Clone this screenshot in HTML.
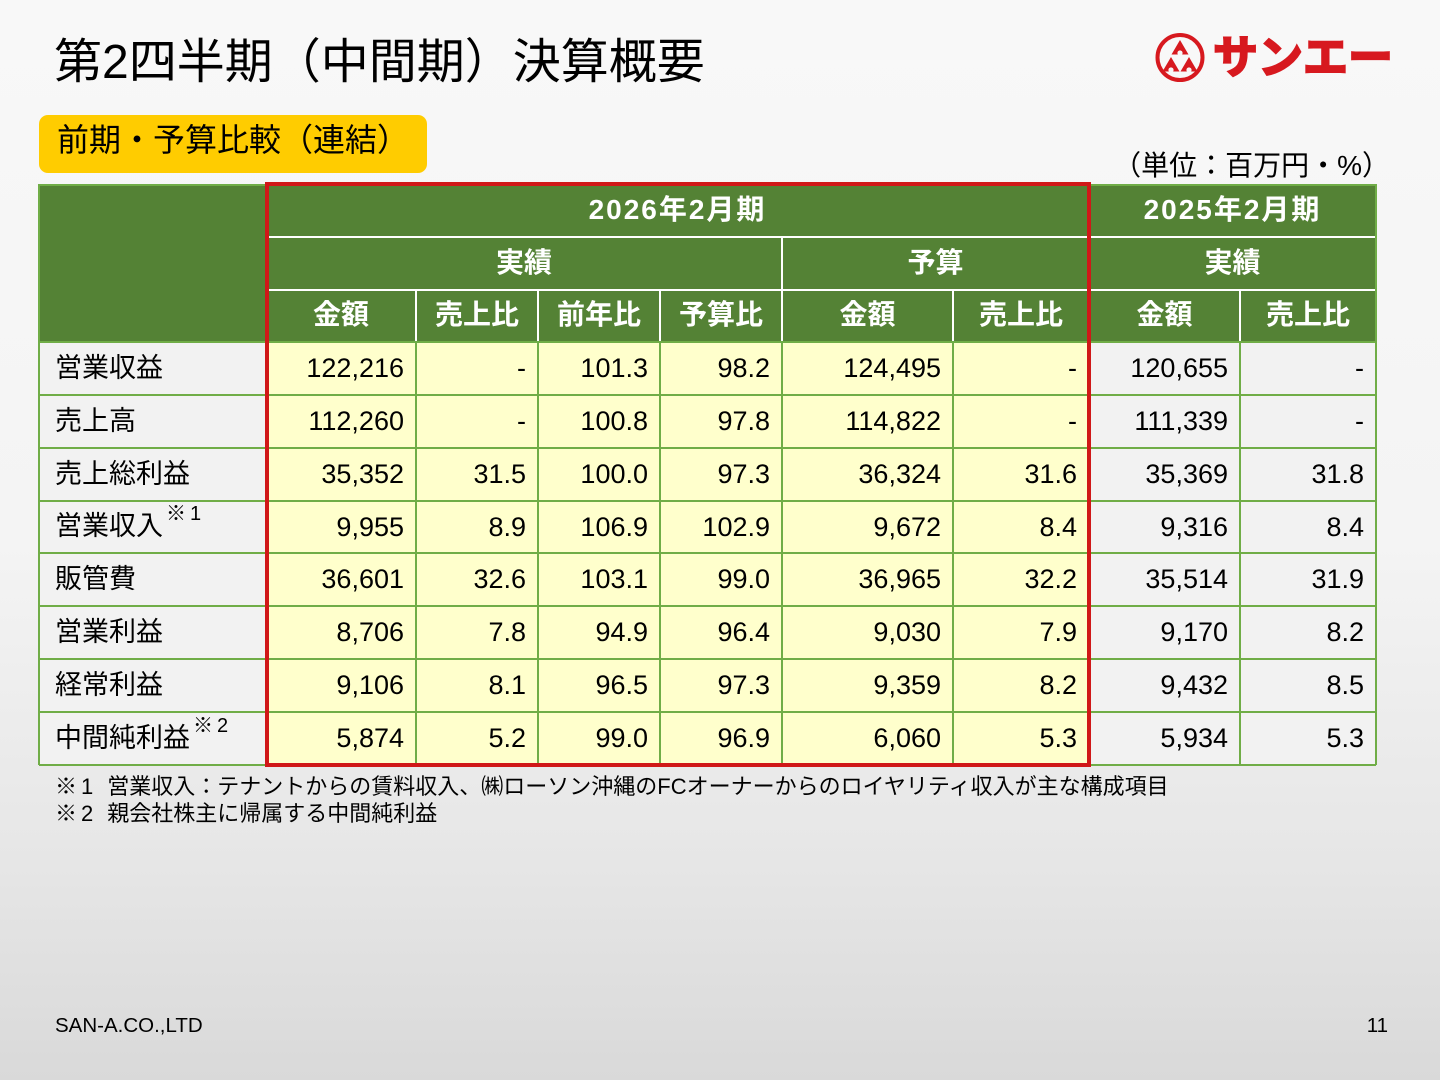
<!DOCTYPE html>
<html lang="ja">
<head>
<meta charset="utf-8">
<style>
  html,body{margin:0;padding:0;}
  body{width:1440px;height:1080px;position:relative;overflow:hidden;
    font-family:"Liberation Sans","Noto Sans CJK JP",sans-serif;color:#000;
    background:linear-gradient(to bottom,#f8f8f8 0%,#f4f4f4 50%,#e6e6e6 80%,#d9d9d9 100%);}
  .abs{position:absolute;}
  .title{left:54px;top:39px;font-size:48px;line-height:48px;white-space:nowrap;}
  .tag{left:39px;top:115px;width:388px;height:58px;background:#ffcc00;border-radius:9px;}
  .tagtext{left:57px;top:124px;font-size:32px;line-height:32px;white-space:nowrap;}
  .unit{left:1090px;top:152px;width:300px;text-align:right;font-size:28px;line-height:28px;white-space:nowrap;}
  #tbl{left:39px;top:184px;width:1337px;height:581px;}
  .row{position:absolute;left:0;width:1337px;display:flex;}
  .row>div{box-sizing:border-box;height:100%;display:flex;align-items:center;}
  .w0{width:227px}.w1{width:150px}.w2{width:122px}.w3{width:122px}.w4{width:122px}
  .w5{width:171px}.w6{width:136px}.w7{width:151px}.w8{width:136px}
  .hd{background:#548235;color:#fff;font-weight:bold;font-size:28px;justify-content:center;padding-bottom:6px;}
  .ls{letter-spacing:2px;}
  .lb{background:#f2f2f2;font-size:27px;padding-left:16px;white-space:nowrap;padding-bottom:7px;}
  .y{background:#ffffcc;}
  .g{background:#f2f2f2;}
  .n{font-size:27px;justify-content:flex-end;padding-right:12px;}
  .sup{font-size:20px;position:relative;top:-12px;margin-left:3px;}
  .hl{position:absolute;height:2px;}
  .vl{position:absolute;width:2px;}
  .gr{background:#70ad47;}
  .wh{background:#ffffff;}
  .red{left:265px;top:182px;width:826px;height:585px;border:4px solid #d01818;box-sizing:border-box;}
  .fn{left:55px;font-size:22px;line-height:26px;white-space:nowrap;}
  .foot{top:1015px;font-size:20.5px;line-height:22px;}
</style>
</head>
<body>

<div class="abs title">第2四半期（中間期）決算概要</div>

<svg class="abs" style="left:1150px;top:28px" width="260" height="60" viewBox="0 0 260 60">
  <circle cx="30" cy="29.5" r="22.5" fill="none" stroke="#d7191f" stroke-width="4"/>
  <polygon points="30,12 38.5,26.5 21.5,26.5" fill="#d7191f"/>
  <polygon points="21,29 29.5,43.5 12.5,43.5" fill="#d7191f"/>
  <polygon points="39,29 47.5,43.5 30.5,43.5" fill="#d7191f"/>
  <circle cx="30" cy="25" r="2.6" fill="#f7f7f7"/>
  <circle cx="21" cy="42" r="2.6" fill="#f7f7f7"/>
  <circle cx="39" cy="42" r="2.6" fill="#f7f7f7"/>
  <text x="63" y="45" font-family="'Noto Sans CJK JP',sans-serif" font-size="45" font-weight="bold" fill="#d7191f" stroke="#d7191f" stroke-width="2" textLength="180" lengthAdjust="spacingAndGlyphs">サンエー</text>
</svg>

<div class="abs tag"></div>
<div class="abs tagtext">前期・予算比較（連結）</div>
<div class="abs unit">（単位：百万円・%）</div>

<div class="abs" id="tbl">
  <div class="abs" style="left:0;top:0;width:227px;height:158px;background:#548235;"></div>
  <div class="row" style="top:0;height:53px;left:227px;width:1110px;">
    <div class="hd ls" style="width:823px">2026年2月期</div>
    <div class="hd ls" style="width:287px">2025年2月期</div>
  </div>
  <div class="row" style="top:53px;height:53px;left:227px;width:1110px;">
    <div class="hd" style="width:516px">実績</div>
    <div class="hd" style="width:307px">予算</div>
    <div class="hd" style="width:287px">実績</div>
  </div>
  <div class="row" style="top:106px;height:52px;left:227px;width:1110px;">
    <div class="hd w1">金額</div><div class="hd w2">売上比</div><div class="hd w3">前年比</div><div class="hd w4">予算比</div>
    <div class="hd w5">金額</div><div class="hd w6">売上比</div>
    <div class="hd w7">金額</div><div class="hd w8">売上比</div>
  </div>

  <div class="row" style="top:158px;height:53px">
    <div class="lb w0">営業収益</div>
    <div class="y n w1">122,216</div><div class="y n w2">-</div><div class="y n w3">101.3</div><div class="y n w4">98.2</div>
    <div class="y n w5">124,495</div><div class="y n w6">-</div>
    <div class="g n w7">120,655</div><div class="g n w8">-</div>
  </div>
  <div class="row" style="top:211px;height:53px">
    <div class="lb w0">売上高</div>
    <div class="y n w1">112,260</div><div class="y n w2">-</div><div class="y n w3">100.8</div><div class="y n w4">97.8</div>
    <div class="y n w5">114,822</div><div class="y n w6">-</div>
    <div class="g n w7">111,339</div><div class="g n w8">-</div>
  </div>
  <div class="row" style="top:264px;height:53px">
    <div class="lb w0">売上総利益</div>
    <div class="y n w1">35,352</div><div class="y n w2">31.5</div><div class="y n w3">100.0</div><div class="y n w4">97.3</div>
    <div class="y n w5">36,324</div><div class="y n w6">31.6</div>
    <div class="g n w7">35,369</div><div class="g n w8">31.8</div>
  </div>
  <div class="row" style="top:317px;height:52px">
    <div class="lb w0">営業収入<span class="sup">※<span style="margin-left:4px">1</span></span></div>
    <div class="y n w1">9,955</div><div class="y n w2">8.9</div><div class="y n w3">106.9</div><div class="y n w4">102.9</div>
    <div class="y n w5">9,672</div><div class="y n w6">8.4</div>
    <div class="g n w7">9,316</div><div class="g n w8">8.4</div>
  </div>
  <div class="row" style="top:369px;height:53px">
    <div class="lb w0">販管費</div>
    <div class="y n w1">36,601</div><div class="y n w2">32.6</div><div class="y n w3">103.1</div><div class="y n w4">99.0</div>
    <div class="y n w5">36,965</div><div class="y n w6">32.2</div>
    <div class="g n w7">35,514</div><div class="g n w8">31.9</div>
  </div>
  <div class="row" style="top:422px;height:53px">
    <div class="lb w0">営業利益</div>
    <div class="y n w1">8,706</div><div class="y n w2">7.8</div><div class="y n w3">94.9</div><div class="y n w4">96.4</div>
    <div class="y n w5">9,030</div><div class="y n w6">7.9</div>
    <div class="g n w7">9,170</div><div class="g n w8">8.2</div>
  </div>
  <div class="row" style="top:475px;height:53px">
    <div class="lb w0">経常利益</div>
    <div class="y n w1">9,106</div><div class="y n w2">8.1</div><div class="y n w3">96.5</div><div class="y n w4">97.3</div>
    <div class="y n w5">9,359</div><div class="y n w6">8.2</div>
    <div class="g n w7">9,432</div><div class="g n w8">8.5</div>
  </div>
  <div class="row" style="top:528px;height:53px">
    <div class="lb w0">中間純利益<span class="sup">※<span style="margin-left:4px">2</span></span></div>
    <div class="y n w1">5,874</div><div class="y n w2">5.2</div><div class="y n w3">99.0</div><div class="y n w4">96.9</div>
    <div class="y n w5">6,060</div><div class="y n w6">5.3</div>
    <div class="g n w7">5,934</div><div class="g n w8">5.3</div>
  </div>

  <div class="hl wh" style="left:227px;width:1110px;top:52px"></div>
  <div class="hl wh" style="left:227px;width:1110px;top:105px"></div>
  <div class="vl wh" style="left:1049px;top:0;height:158px"></div>
  <div class="vl wh" style="left:742px;top:53px;height:105px"></div>
  <div class="vl wh" style="left:376px;top:106px;height:52px"></div>
  <div class="vl wh" style="left:498px;top:106px;height:52px"></div>
  <div class="vl wh" style="left:620px;top:106px;height:52px"></div>
  <div class="vl wh" style="left:913px;top:106px;height:52px"></div>
  <div class="vl wh" style="left:1200px;top:106px;height:52px"></div>

  <div class="hl gr" style="left:0;width:1337px;top:0"></div>
  <div class="hl gr" style="left:0;width:1337px;top:157px"></div>
  <div class="hl gr" style="left:0;width:1337px;top:210px"></div>
  <div class="hl gr" style="left:0;width:1337px;top:263px"></div>
  <div class="hl gr" style="left:0;width:1337px;top:316px"></div>
  <div class="hl gr" style="left:0;width:1337px;top:368px"></div>
  <div class="hl gr" style="left:0;width:1337px;top:421px"></div>
  <div class="hl gr" style="left:0;width:1337px;top:474px"></div>
  <div class="hl gr" style="left:0;width:1337px;top:527px"></div>
  <div class="hl gr" style="left:0;width:1337px;top:580px"></div>
  <div class="vl gr" style="left:-1px;top:0;height:581px"></div>
  <div class="vl gr" style="left:1336px;top:0;height:581px"></div>
  <div class="vl gr" style="left:226px;top:158px;height:423px"></div>
  <div class="vl gr" style="left:376px;top:158px;height:423px"></div>
  <div class="vl gr" style="left:498px;top:158px;height:423px"></div>
  <div class="vl gr" style="left:620px;top:158px;height:423px"></div>
  <div class="vl gr" style="left:742px;top:158px;height:423px"></div>
  <div class="vl gr" style="left:913px;top:158px;height:423px"></div>
  <div class="vl gr" style="left:1049px;top:158px;height:423px"></div>
  <div class="vl gr" style="left:1200px;top:158px;height:423px"></div>
</div>

<div class="abs red"></div>

<div class="abs fn" style="top:774px">※<span style="margin-left:4px">1</span><span style="margin-left:14px">営業収入：テナントからの賃料収入、㈱ローソン沖縄のFCオーナーからのロイヤリティ収入が主な構成項目</span></div>
<div class="abs fn" style="top:801px">※<span style="margin-left:4px">2</span><span style="margin-left:14px">親会社株主に帰属する中間純利益</span></div>

<div class="abs foot" style="left:55px">SAN-A.CO.,LTD</div>
<div class="abs foot" style="left:1300px;width:88px;text-align:right">11</div>

</body>
</html>
